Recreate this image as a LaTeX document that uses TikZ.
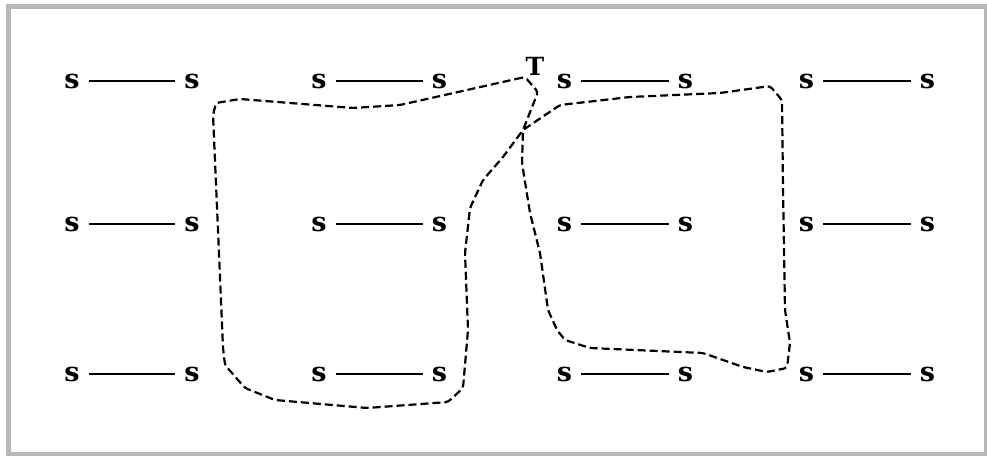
\documentclass[tikz,border=0pt]{standalone}
\usepackage{fontspec}
\setmainfont{DejaVu Serif}
\definecolor{framegray}{RGB}{184,184,184}
\tikzset{
  site/.style={font=\bfseries\fontsize{27}{27}\selectfont, inner xsep=9pt, inner ysep=2pt},
  bond/.style={line width=2.2pt},
  loopline/.style={line width=2.2pt, dash pattern=on 8pt off 4pt, rounded corners=3pt}
}
\begin{document}
\begin{tikzpicture}[x=1pt,y=-1pt]
            \useasboundingbox (0,0) rectangle (987,455);
            \draw[framegray, line width=5pt] (8.5,6.5) rectangle (986.5,454.5);

            \node[site] (a1) at (72,81) {s};    \node[site] (b1) at (192,81) {s};
            \node[site] (a2) at (319,81) {s};   \node[site] (b2) at (439.5,81) {s};
            \node[site] (a3) at (564.5,81) {s}; \node[site] (b3) at (685.5,81) {s};
            \node[site] (a4) at (806.5,81) {s}; \node[site] (b4) at (927.5,81) {s};

            \node[site] (c1) at (72,224) {s};    \node[site] (d1) at (192,224) {s};
            \node[site] (c2) at (319,224) {s};   \node[site] (d2) at (439.5,224) {s};
            \node[site] (c3) at (564.5,224) {s}; \node[site] (d3) at (685.5,224) {s};
            \node[site] (c4) at (806.5,224) {s}; \node[site] (d4) at (927.5,224) {s};

            \node[site] (e1) at (72,374) {s};    \node[site] (f1) at (192,374) {s};
            \node[site] (e2) at (319,374) {s};   \node[site] (f2) at (439.5,374) {s};
            \node[site] (e3) at (564.5,374) {s}; \node[site] (f3) at (685.5,374) {s};
            \node[site] (e4) at (806.5,374) {s}; \node[site] (f4) at (927.5,374) {s};

            \node[font=\bfseries\fontsize{25}{25}\selectfont, inner sep=0pt] (T) at (535,66) {T};

            \draw[bond] (a1) to (b1); \draw[bond] (a2) to (b2); \draw[bond] (a3) to (b3); \draw[bond] (a4) to (b4);
            \draw[bond] (c1) to (d1); \draw[bond] (c2) to (d2); \draw[bond] (c3) to (d3); \draw[bond] (c4) to (d4);
            \draw[bond] (e1) to (f1); \draw[bond] (e2) to (f2); \draw[bond] (e3) to (f3); \draw[bond] (e4) to (f4);

            % the closed walk through T
            \draw[loopline] (525,77) -- (400,105) -- (353,108) -- (240,99) -- (216,103) -- (213,115)
              -- (218,230) -- (223,348) -- (225,365) -- (245,388) -- (275,400) -- (367,408) -- (448,402)
              -- (463,388) -- (468,330) -- (465,253) -- (470,208) -- (483,180) -- (503,157) -- (523,130)
              -- (560,105) -- (630,97) -- (720,93) -- (770,86) -- (782,100) -- (783,188) -- (785,310)
              -- (790,343) -- (787,368) -- (767,372) -- (743,367) -- (703,353) -- (590,348) -- (565,340)
              -- (557,330) -- (548,310) -- (540,253) -- (530,213) -- (522,163) -- (523,130) -- (538,92) -- cycle;
        \end{tikzpicture}
\end{document}
